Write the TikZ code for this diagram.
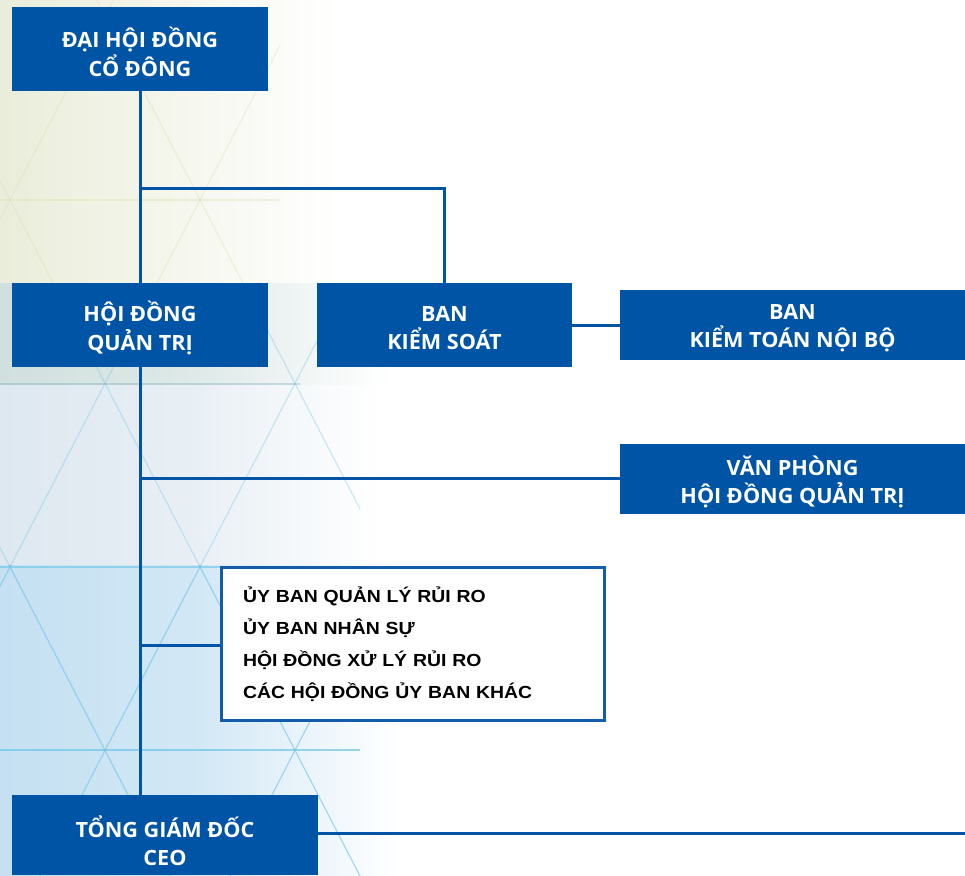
\documentclass[tikz,border=0pt]{standalone}
\usepackage{fontspec}
\setmainfont[FakeStretch=1.03]{Open Sans}
\newfontfamily\listfont[FakeStretch=1.11]{Liberation Sans}
\definecolor{cblue}{RGB}{0,84,166}
\definecolor{cframe}{RGB}{18,92,170}
\definecolor{bgyel}{RGB}{234,237,218}
\definecolor{bgteal}{RGB}{208,224,222}
\definecolor{bggray}{RGB}{222,232,240}
\definecolor{bgblue}{RGB}{196,224,242}
\definecolor{gridcyan}{RGB}{110,196,230}
\definecolor{gridyel}{RGB}{214,222,170}
\begin{document}
\begin{tikzpicture}[x=1pt,y=-1pt,
  bluebox/.style={fill=cblue, inner sep=0pt},
  boxtext/.style={text=white, align=center, inner sep=0pt, yshift=-3pt,
    font=\bfseries\fontsize{21}{28.5}\selectfont},
  listbox/.style={draw=cframe, line width=3pt, fill=white, inner sep=0pt,
    align=left, text width=340pt, font=\listfont\bfseries\fontsize{17.5}{32}\selectfont},
  link/.style={draw=cblue, line width=3pt},
  bgline/.style={line width=1.2pt}
]
\useasboundingbox (0,0) rectangle (965,875);
\fill[white] (0,0) rectangle (965,875);
% ---- background decoration ----
\shade[left color=bgyel, right color=white] (0,0) rectangle (340,283);
\shade[left color=bgteal, right color=white, middle color=bgteal!70] (0,283) rectangle (390,385);
\shade[left color=bggray, right color=white, middle color=bggray!70] (0,385) rectangle (380,565);
\shade[left color=bgblue, right color=white, middle color=bgblue!75] (0,565) rectangle (400,875);
\begin{scope}
  \clip (0,0) rectangle (280,290);
  \foreach \n in {-2,...,4}{
    \draw[gridyel, bgline, opacity=0.35] ({10+190*\n-207},-200) -- ({10+190*\n+466},1100);
    \draw[gridyel, bgline, opacity=0.35] ({10+190*\n+207},-200) -- ({10+190*\n-466},1100);
  }
  \draw[gridyel, bgline, opacity=0.35] (0,200) -- (280,200);
\end{scope}
\begin{scope}
  \clip (0,290) rectangle (360,565);
  \foreach \n in {-2,...,5}{
    \draw[gridcyan, bgline, opacity=0.35] ({10+190*\n-207},-200) -- ({10+190*\n+466},1100);
    \draw[gridcyan, bgline, opacity=0.35] ({10+190*\n+207},-200) -- ({10+190*\n-466},1100);
  }
  \draw[gridcyan!60!gray, bgline, opacity=0.35] (0,384) -- (300,384);
\end{scope}
\begin{scope}
  \clip (0,565) rectangle (380,875);
  \foreach \n in {-2,...,5}{
    \draw[gridcyan, bgline, opacity=0.6] ({10+190*\n-207},-200) -- ({10+190*\n+466},1100);
    \draw[gridcyan, bgline, opacity=0.6] ({10+190*\n+207},-200) -- ({10+190*\n-466},1100);
  }
  \draw[gridcyan, bgline, opacity=0.6] (0,567) -- (360,567);
  \draw[gridcyan, bgline, opacity=0.7] (0,750) -- (360,750);
\end{scope}
% ---- nodes ----
\node[bluebox, minimum width=256pt, minimum height=84pt,
  label={[boxtext]center:{ĐẠI HỘI ĐỒNG\\CỔ ĐÔNG}}] (dhdcd) at (140,49) {};
\node[bluebox, minimum width=256pt, minimum height=84pt,
  label={[boxtext]center:{HỘI ĐỒNG\\QUẢN TRỊ}}] (hdqt) at (140,325) {};
\node[bluebox, minimum width=255pt, minimum height=84pt,
  label={[boxtext]center:{BAN\\KIỂM SOÁT}}] (bks) at (444.5,325) {};
\node[bluebox, minimum width=345pt, minimum height=70pt,
  label={[boxtext]center:{BAN\\KIỂM TOÁN NỘI BỘ}}] (ktnb) at (792.5,325) {};
\node[bluebox, minimum width=345pt, minimum height=70pt,
  label={[boxtext]center:{VĂN PHÒNG\\HỘI ĐỒNG QUẢN TRỊ}}] (vp) at (792.5,479) {};
\node[listbox, minimum width=383pt, minimum height=153pt] (comm) at (413,644)
  {ỦY BAN QUẢN LÝ RỦI RO\\ỦY BAN NHÂN SỰ\\HỘI ĐỒNG XỬ LÝ RỦI RO\\CÁC HỘI ĐỒNG ỦY BAN KHÁC};
\node[bluebox, minimum width=306pt, minimum height=80pt,
  label={[boxtext, yshift=-2.5pt]center:{TỔNG GIÁM ĐỐC\\CEO}}] (ceo) at (165,835) {};
% ---- connectors ----
\coordinate (j1) at (140,188);
\coordinate (j2) at (140,478);
\coordinate (j3) at (140,645);
\coordinate (ceoend) at (965,833);
\draw[link] (dhdcd.south) -- (hdqt.north);
\draw[link] (hdqt.south) -- (hdqt.south |- ceo.north);
\draw[link] (j1) -| (bks.north);
\draw[link] (bks.east) -- (ktnb.west);
\draw[link] (j2) -- (vp.west |- j2);
\draw[link] (j3) -- (comm.west |- j3);
\draw[link] (ceo.east |- ceoend) -- (ceoend);
\end{tikzpicture}
\end{document}
